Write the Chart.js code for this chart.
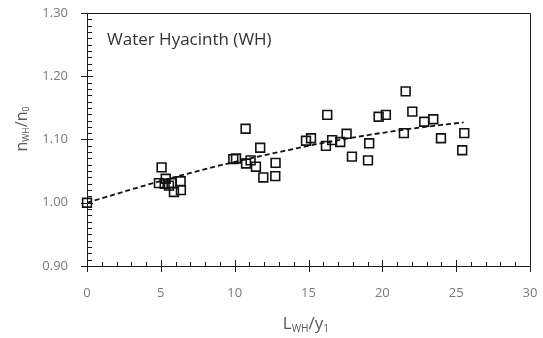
<!DOCTYPE html>
<html lang="en">
<head>
    <meta charset="UTF-8">
    <title>Water Hyacinth (WH)</title>
    <script src="https://cdn.jsdelivr.net/npm/chart.js"></script>
    <style>
        body {
            margin: 0;
            background: #fff;
        }
        .grafico-container {
            width: 543px;
            height: 338px;
        }
    </style>
</head>
<body>
    <div class="grafico-container">
        <canvas id="graficaWH" width="543" height="338"></canvas>
    </div>

    <script>
        // datos
        const xMedidos = [0, 5.05, 4.87, 5.33, 5.26, 5.55, 5.73, 5.89, 6.34, 6.36,
            9.91, 10.09, 10.74, 10.77, 11.08, 11.44, 11.73, 11.94, 12.77, 12.75,
            14.83, 15.17, 16.27, 16.18, 16.6, 17.15, 17.58, 17.94, 19.11, 19.03,
            19.75, 20.24, 21.46, 21.58, 22.03, 22.84, 23.45, 23.97, 25.55, 25.41];
        const yMedidos = [1.000, 1.056, 1.031, 1.038, 1.030, 1.027, 1.031, 1.017, 1.034, 1.020,
            1.069, 1.070, 1.117, 1.062, 1.067, 1.057, 1.087, 1.040, 1.063, 1.042,
            1.098, 1.102, 1.139, 1.090, 1.099, 1.096, 1.109, 1.073, 1.094, 1.067,
            1.136, 1.139, 1.110, 1.176, 1.144, 1.128, 1.132, 1.102, 1.110, 1.083];

        // linea de tendencia (puntos leidos sobre la curva punteada)
        const xTendencia = [0, 3, 6, 9, 12, 15, 18, 21, 24, 25.5];
        const yTendencia = [1.000, 1.021, 1.041, 1.059, 1.075, 1.090, 1.103, 1.114, 1.123, 1.127];

        const xTicks = [0, 5, 10, 15, 20, 25, 30];
        const yTicks = [0.90, 1.00, 1.10, 1.20, 1.30];

        const colorTexto = '#7a7a7a';
        const colorEje = '#1a1a1a';

        // texto con subindice: partes [texto, esSub]
        function textoSub(ctx, partes, x, y, size, escala) {
            let ancho = 0;
            partes.forEach(p => {
                ctx.font = (p[1] ? size * escala : size) + 'px "Open Sans", sans-serif';
                ancho += ctx.measureText(p[0]).width;
            });
            let cx = x - ancho / 2;
            partes.forEach(p => {
                ctx.font = (p[1] ? size * escala : size) + 'px "Open Sans", sans-serif';
                ctx.fillText(p[0], cx, p[1] ? y + size * 0.3 : y);
                cx += ctx.measureText(p[0]).width;
            });
        }

        const marcasYTitulos = {
            id: 'marcasYTitulos',
            afterDraw(chart) {
                const ctx = chart.ctx;
                const a = chart.chartArea;
                const sx = chart.scales.x, sy = chart.scales.y;
                ctx.save();
                ctx.strokeStyle = colorEje;
                ctx.lineWidth = 1;
                // marco superior y derecho
                ctx.beginPath();
                ctx.moveTo(a.left, a.top + 0.5);
                ctx.lineTo(a.right + 0.5, a.top + 0.5);
                ctx.lineTo(a.right + 0.5, a.bottom);
                ctx.stroke();
                // marcas eje x
                ctx.beginPath();
                for (let v = 0; v <= 30; v++) {
                    const px = Math.round(sx.getPixelForValue(v)) + 0.5;
                    if (v % 5 === 0) {
                        ctx.moveTo(px, a.bottom - 6);
                        ctx.lineTo(px, a.bottom + 6);
                    } else {
                        ctx.moveTo(px, a.bottom - 4);
                        ctx.lineTo(px, a.bottom);
                    }
                }
                // marcas eje y
                for (let i = 90; i <= 130; i++) {
                    const py = Math.round(sy.getPixelForValue(i / 100)) + 0.5;
                    if (i % 10 === 0) {
                        ctx.moveTo(a.left - 6, py);
                        ctx.lineTo(a.left + 6, py);
                    } else {
                        ctx.moveTo(a.left, py);
                        ctx.lineTo(a.left + 5, py);
                    }
                }
                ctx.stroke();

                // etiqueta dentro del grafico
                ctx.fillStyle = '#333';
                ctx.font = '17px "Open Sans", sans-serif';
                ctx.textBaseline = 'middle';
                ctx.textAlign = 'left';
                ctx.fillText('Water Hyacinth (WH)', 107, 40);

                // titulos de ejes
                ctx.fillStyle = '#595959';
                textoSub(ctx, [['L', false], ['WH', true], ['/y', false], ['1', true]], 306, 324, 17, 0.6);
                ctx.translate(22, 129);
                ctx.rotate(-Math.PI / 2);
                textoSub(ctx, [['n', false], ['WH', true], ['/n', false], ['0', true]], 0, 0, 16, 0.55);
                ctx.restore();
            }
        };

        const ctx = document.getElementById('graficaWH').getContext('2d');
        const grafica = new Chart(ctx, {
            type: 'scatter',
            data: {
                datasets: [{
                    label: 'WH',
                    data: xMedidos.map((x, i) => ({ x: x, y: yMedidos[i] })),
                    pointStyle: 'rect',
                    pointRadius: 6.2,
                    pointBorderWidth: 1.6,
                    borderColor: '#111',
                    backgroundColor: 'rgba(0,0,0,0)',
                    showLine: false,
                    clip: false,
                    order: 1
                }, {
                    label: 'Tendencia',
                    data: xTendencia.map((x, i) => ({ x: x, y: yTendencia[i] })),
                    showLine: true,
                    borderColor: '#111',
                    borderWidth: 1.8,
                    borderDash: [5, 3],
                    pointRadius: 0,
                    tension: 0.4,
                    cubicInterpolationMode: 'monotone',
                    order: 2
                }]
            },
            plugins: [marcasYTitulos],
            options: {
                responsive: false,
                animation: false,
                layout: { padding: { top: 13, right: 13, left: 0, bottom: 0 } },
                plugins: {
                    legend: { display: false },
                    tooltip: { enabled: false }
                },
                scales: {
                    x: {
                        type: 'linear',
                        min: 0, max: 30,
                        afterFit: s => {
                            s.height = 72;
                            s.paddingLeft = 0;
                            s.paddingRight = 0;
                        },
                        afterBuildTicks: s => { s.ticks = xTicks.map(v => ({ value: v })); },
                        grid: { display: false, drawTicks: false },
                        border: { display: true, color: colorEje, width: 1 },
                        ticks: {
                            color: colorTexto,
                            font: { family: '"Open Sans", sans-serif', size: 13 },
                            padding: 19,
                            callback: v => String(v)
                        }
                    },
                    y: {
                        min: 0.9, max: 1.3,
                        afterFit: s => {
                            s.width = 87;
                            s.paddingTop = 0;
                            s.paddingBottom = 0;
                        },
                        afterBuildTicks: s => { s.ticks = yTicks.map(v => ({ value: v })); },
                        grid: { display: false, drawTicks: false },
                        border: { display: true, color: colorEje, width: 1 },
                        ticks: {
                            color: colorTexto,
                            font: { family: '"Open Sans", sans-serif', size: 13 },
                            padding: 19,
                            callback: v => Number(v).toFixed(2)
                        }
                    }
                }
            }
        });
    </script>
</body>
</html>
